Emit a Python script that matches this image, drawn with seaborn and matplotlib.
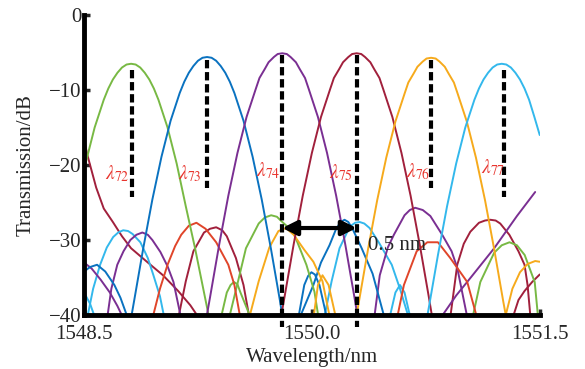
import matplotlib
matplotlib.use("Agg")
import matplotlib.pyplot as plt
import seaborn as sns

# main lobes of the six channels (wavelength nm, transmission dB)
green_wl = [1548.45, 1548.51, 1548.57, 1548.63, 1548.66, 1548.69, 1548.72, 1548.75, 1548.78, 1548.81,
            1548.84, 1548.87, 1548.90, 1548.93, 1548.96, 1548.99, 1549.05, 1549.11, 1549.17, 1549.23,
            1549.29, 1549.33]
green_db = [-25.5, -19.8, -15.0, -11.3, -9.8, -8.6, -7.7, -7.0, -6.6, -6.5,
            -6.6, -7.0, -7.7, -8.6, -9.8, -11.3, -15.0, -19.8, -25.5, -31.0,
            -37.0, -41.0]

blue_wl = [1548.77, 1548.83, 1548.89, 1548.95, 1549.01, 1549.07, 1549.13, 1549.16, 1549.19, 1549.22,
           1549.25, 1549.28, 1549.31, 1549.34, 1549.37, 1549.40, 1549.43, 1549.46, 1549.49, 1549.55,
           1549.61, 1549.67, 1549.73, 1549.79, 1549.82]
blue_db = [-45.0, -38.1, -31.1, -24.6, -18.9, -14.1, -10.4, -8.9, -7.7, -6.8,
           -6.1, -5.7, -5.6, -5.7, -6.1, -6.8, -7.7, -8.9, -10.4, -14.1,
           -18.9, -24.6, -31.1, -38.1, -42.0]

purple_wl = [1549.27, 1549.33, 1549.39, 1549.45, 1549.51, 1549.57, 1549.63, 1549.655, 1549.69, 1549.715,
             1549.75, 1549.775, 1549.805, 1549.835, 1549.86, 1549.895, 1549.92, 1549.955, 1549.98, 1550.04,
             1550.10, 1550.16, 1550.22, 1550.28, 1550.32]
purple_db = [-44.5, -37.6, -30.6, -24.1, -18.4, -13.6, -9.9, -8.4, -7.2, -6.3,
             -5.6, -5.2, -5.1, -5.2, -5.6, -6.3, -7.2, -8.4, -9.9, -13.6,
             -18.4, -24.1, -30.6, -37.6, -42.5]

darkred_wl = [1549.76, 1549.82, 1549.88, 1549.94, 1550.00, 1550.06, 1550.12, 1550.145, 1550.18, 1550.205,
              1550.24, 1550.265, 1550.295, 1550.325, 1550.35, 1550.385, 1550.41, 1550.445, 1550.47, 1550.53,
              1550.59, 1550.65, 1550.71, 1550.77, 1550.81]
darkred_db = [-44.5, -37.6, -30.6, -24.1, -18.4, -13.6, -9.9, -8.4, -7.2, -6.3,
              -5.6, -5.2, -5.1, -5.2, -5.6, -6.3, -7.2, -8.4, -9.9, -13.6,
              -18.4, -24.1, -30.6, -37.6, -42.5]

yellow_wl = [1550.25, 1550.31, 1550.37, 1550.43, 1550.49, 1550.55, 1550.61, 1550.635, 1550.67, 1550.695,
             1550.73, 1550.755, 1550.785, 1550.815, 1550.84, 1550.875, 1550.90, 1550.935, 1550.96, 1551.02,
             1551.08, 1551.14, 1551.20, 1551.26, 1551.29]
yellow_db = [-45.0, -38.2, -31.2, -24.7, -19.0, -14.2, -10.5, -9.0, -7.8, -6.9,
             -6.2, -5.8, -5.7, -5.8, -6.2, -6.9, -7.8, -9.0, -10.5, -14.2,
             -19.0, -24.7, -31.2, -38.2, -41.5]

lightblue_wl = [1550.73, 1550.77, 1550.83, 1550.89, 1550.95, 1551.01, 1551.07, 1551.10, 1551.13, 1551.16,
                1551.19, 1551.22, 1551.25, 1551.28, 1551.31, 1551.34, 1551.37, 1551.40, 1551.43, 1551.465,
                1551.50]
lightblue_db = [-43.5, -39.0, -32.0, -25.5, -19.8, -15.0, -11.3, -9.8, -8.6, -7.7,
                -7.0, -6.6, -6.5, -6.6, -7.0, -7.7, -8.6, -9.8, -11.3, -13.6,
                -16.0]

# side lobes, per colour: (wavelengths, dB)
darkred_side = [
    ([1548.50, 1548.52, 1548.54, 1548.58, 1548.63, 1548.69, 1548.75, 1548.81, 1548.92, 1549.02, 1549.12, 1549.20, 1549.26],
     [-16.5, -18.5, -20.0, -23.0, -25.8, -27.6, -29.5, -31.1, -33.0, -34.7, -36.8, -38.7, -40.5]),
    ([1549.12, 1549.17, 1549.22, 1549.29, 1549.33, 1549.37, 1549.41, 1549.44, 1549.50, 1549.55, 1549.59],
     [-40.5, -35.5, -31.5, -29.0, -28.5, -28.3, -28.7, -29.5, -32.4, -36.0, -40.5]),
    ([1550.91, 1550.957, 1551.00, 1551.043, 1551.10, 1551.14, 1551.175, 1551.21, 1551.24, 1551.30, 1551.36, 1551.40,
      1551.42, 1551.44],
     [-40.5, -33.3, -30.5, -28.9, -27.7, -27.4, -27.3, -27.4, -27.8, -29.3, -31.5, -33.3, -36.0, -40.5]),
    ([1551.32, 1551.36, 1551.40, 1551.45, 1551.49, 1551.50],
     [-40.5, -38.0, -36.8, -35.6, -34.8, -34.6]),
]
lightblue_side = [
    ([1548.52, 1548.56, 1548.606, 1548.65, 1548.692, 1548.725, 1548.758, 1548.79, 1548.82, 1548.871, 1548.92,
      1548.957, 1549.00, 1549.03],
     [-40.5, -36.5, -33.3, -31.0, -29.6, -29.0, -28.7, -28.8, -29.2, -30.3, -32.4, -34.7, -37.5, -40.5]),
    ([1548.50, 1548.54, 1548.575], [-37.0, -38.5, -40.5]),
    ([1550.08, 1550.13, 1550.182, 1550.25, 1550.285, 1550.315, 1550.345, 1550.38, 1550.44, 1550.526, 1550.58,
      1550.64],
     [-40.5, -35.5, -31.1, -28.2, -27.7, -27.6, -27.8, -28.4, -30.3, -33.3, -36.5, -40.5]),
    ([1550.51, 1550.55, 1550.58, 1550.61, 1550.65], [-40.5, -37.0, -36.0, -37.0, -40.5]),
]
purple_side = [
    ([1548.652, 1548.68, 1548.719, 1548.76, 1548.805, 1548.845, 1548.884, 1548.92, 1548.95, 1549.003, 1549.05,
      1549.089, 1549.14],
     [-40.5, -36.5, -33.3, -31.5, -30.0, -29.3, -29.0, -29.3, -30.0, -31.6, -33.5, -35.6, -40.5]),
    ([1548.50, 1548.55, 1548.61, 1548.67, 1548.72, 1548.76], [-33.0, -33.8, -35.3, -37.0, -38.8, -40.5]),
    ([1550.41, 1550.447, 1550.50, 1550.54, 1550.61, 1550.645, 1550.68, 1550.73, 1550.78, 1550.858, 1550.92,
      1550.957, 1551.025],
     [-40.5, -34.7, -31.0, -29.3, -26.7, -26.0, -25.7, -26.0, -26.8, -29.3, -31.5, -33.7, -40.5]),
    ([1550.844, 1550.95, 1551.05, 1551.20, 1551.35, 1551.47], [-40.5, -37.4, -34.9, -31.1, -26.8, -23.6]),
]
blue_side = [
    ([1548.50, 1548.54, 1548.586, 1548.64, 1548.70, 1548.74, 1548.79], [-34.2, -33.6, -33.3, -34.2, -36.0, -37.7, -40.5]),
    ([1549.91, 1549.95, 1549.975, 1549.997, 1550.02, 1550.05, 1550.10], [-40.5, -36.0, -34.8, -34.3, -34.6, -36.0, -40.5]),
    ([1549.917, 1550.01, 1550.06, 1550.116, 1550.16, 1550.19, 1550.215, 1550.24, 1550.27, 1550.328, 1550.40, 1550.48],
     [-40.5, -36.0, -33.0, -30.7, -28.5, -27.6, -27.3, -27.6, -28.6, -31.1, -34.5, -40.5]),
]
green_side = [
    ([1549.40, 1549.44, 1549.465, 1549.487, 1549.51, 1549.53, 1549.60], [-40.5, -37.0, -36.0, -35.6, -35.9, -37.0, -40.5]),
    ([1549.454, 1549.52, 1549.566, 1549.65, 1549.69, 1549.732, 1549.77, 1549.80, 1549.877, 1549.964, 1550.017,
      1550.045],
     [-40.5, -35.0, -31.1, -27.8, -27.0, -26.7, -26.9, -27.5, -28.9, -33.3, -36.9, -40.5]),
    ([1551.056, 1551.109, 1551.20, 1551.25, 1551.301, 1551.35, 1551.401, 1551.467, 1551.49],
     [-40.5, -35.6, -31.7, -30.7, -30.3, -30.7, -32.0, -35.6, -40.5]),
]
yellow_side = [
    ([1549.586, 1549.65, 1549.72, 1549.78, 1549.83, 1549.88, 1549.95, 1550.01, 1550.07, 1550.12],
     [-40.5, -35.5, -31.0, -28.8, -28.4, -29.3, -31.3, -32.9, -35.5, -40.5]),
    ([1550.01, 1550.04, 1550.07, 1550.11, 1550.16], [-40.5, -36.0, -34.7, -36.0, -40.5]),
    ([1551.27, 1551.32, 1551.37, 1551.42, 1551.47, 1551.50], [-40.5, -36.5, -34.3, -33.2, -32.8, -32.9]),
]
redorange_side = [
    ([1548.95, 1549.00, 1549.05, 1549.10, 1549.14, 1549.19, 1549.24, 1549.30, 1549.37, 1549.45, 1549.49, 1549.53],
     [-40.5, -36.5, -33.3, -30.8, -29.3, -28.1, -27.7, -28.5, -30.3, -33.3, -36.0, -40.5]),
    ([1550.56, 1550.606, 1550.69, 1550.76, 1550.83, 1550.911, 1551.023, 1551.089],
     [-40.5, -36.0, -31.5, -30.3, -30.3, -32.4, -35.6, -40.5]),
]

# channel markers
channels = ["72", "73", "74", "75", "76", "77"]
marker_wl = [1548.818, 1549.31, 1549.805, 1550.295, 1550.785, 1551.268]
marker_top = [-7.3, -6.0, -5.3, -5.3, -6.0, -7.3]
marker_bottom = [-24.2, -23.0, -41.6, -41.6, -23.0, -24.2]
label_wl = [1548.72, 1549.20, 1549.71, 1550.19, 1550.70, 1551.195]
label_db = [-21.1, -21.1, -20.7, -21.0, -20.9, -20.3]

colors = {
    "blue": "#0A72C0", "redorange": "#E0452A", "yellow": "#F6AA1C", "purple": "#7A2F92",
    "green": "#78B944", "lightblue": "#33B8EC", "darkred": "#A1203C",
}

sns.set_theme(style="ticks")
plt.rcParams["font.family"] = ["Liberation Serif", "DejaVu Serif"]
plt.rcParams["mathtext.fontset"] = "stix"

fig = plt.figure(figsize=(5.85, 3.69), dpi=100)
ax = fig.add_axes([0.1436, 0.1463, 0.779, 0.813])

lw = 1.4
side_sets = [("darkred", darkred_side), ("lightblue", lightblue_side), ("purple", purple_side),
             ("blue", blue_side), ("green", green_side), ("yellow", yellow_side),
             ("redorange", redorange_side)]
for name, segs in side_sets:
    for xs, ys in segs:
        sns.lineplot(x=xs, y=ys, ax=ax, color=colors[name], lw=lw, sort=False, estimator=None)

mains = [(green_wl, green_db, "green"), (blue_wl, blue_db, "blue"), (purple_wl, purple_db, "purple"),
         (darkred_wl, darkred_db, "darkred"), (yellow_wl, yellow_db, "yellow"),
         (lightblue_wl, lightblue_db, "lightblue")]
for xs, ys, name in mains:
    sns.lineplot(x=xs, y=ys, ax=ax, color=colors[name], lw=lw, sort=False, estimator=None)

for x, top, bot in zip(marker_wl, marker_top, marker_bottom):
    ax.plot([x, x], [top, bot], color="black", lw=3, ls=(0, (2.0, 0.9)), zorder=6, clip_on=False)

for ch, x, y in zip(channels, label_wl, label_db):
    ax.text(x, y, r"$\lambda_{%s}$" % ch, color="#E8352E", fontsize=14, ha="center", va="center", zorder=7)

ax.annotate("", xy=(marker_wl[2], -28.4), xytext=(marker_wl[3], -28.4),
            arrowprops=dict(arrowstyle="<|-|>", lw=3, color="black", mutation_scale=22,
                            shrinkA=0, shrinkB=0), zorder=8)
ax.text(1550.37, -30.7, "0.5 nm", fontsize=15, ha="left", va="center", zorder=8)

ax.set_xlim(1548.5, 1551.5)
ax.set_ylim(-40, 0)
ax.set_xticks([1548.5, 1550.0, 1551.5])
ax.set_xticklabels(["1548.5", "1550.0", "1551.5"])
ax.set_yticks([0, -10, -20, -30, -40])
ax.set_xlabel("Wavelength/nm", fontsize=15, labelpad=3)
ax.set_ylabel("Transmission/dB", fontsize=15, labelpad=9)
ax.tick_params(direction="in", length=4, width=2.5, labelsize=15)
ax.tick_params(axis="x", pad=7)
ax.tick_params(axis="y", pad=2)
for side in ["top", "right"]:
    ax.spines[side].set_visible(False)
for side in ["left", "bottom"]:
    ax.spines[side].set_linewidth(3.5)
    ax.spines[side].set_color("black")

fig.savefig("out.png", dpi=100)
